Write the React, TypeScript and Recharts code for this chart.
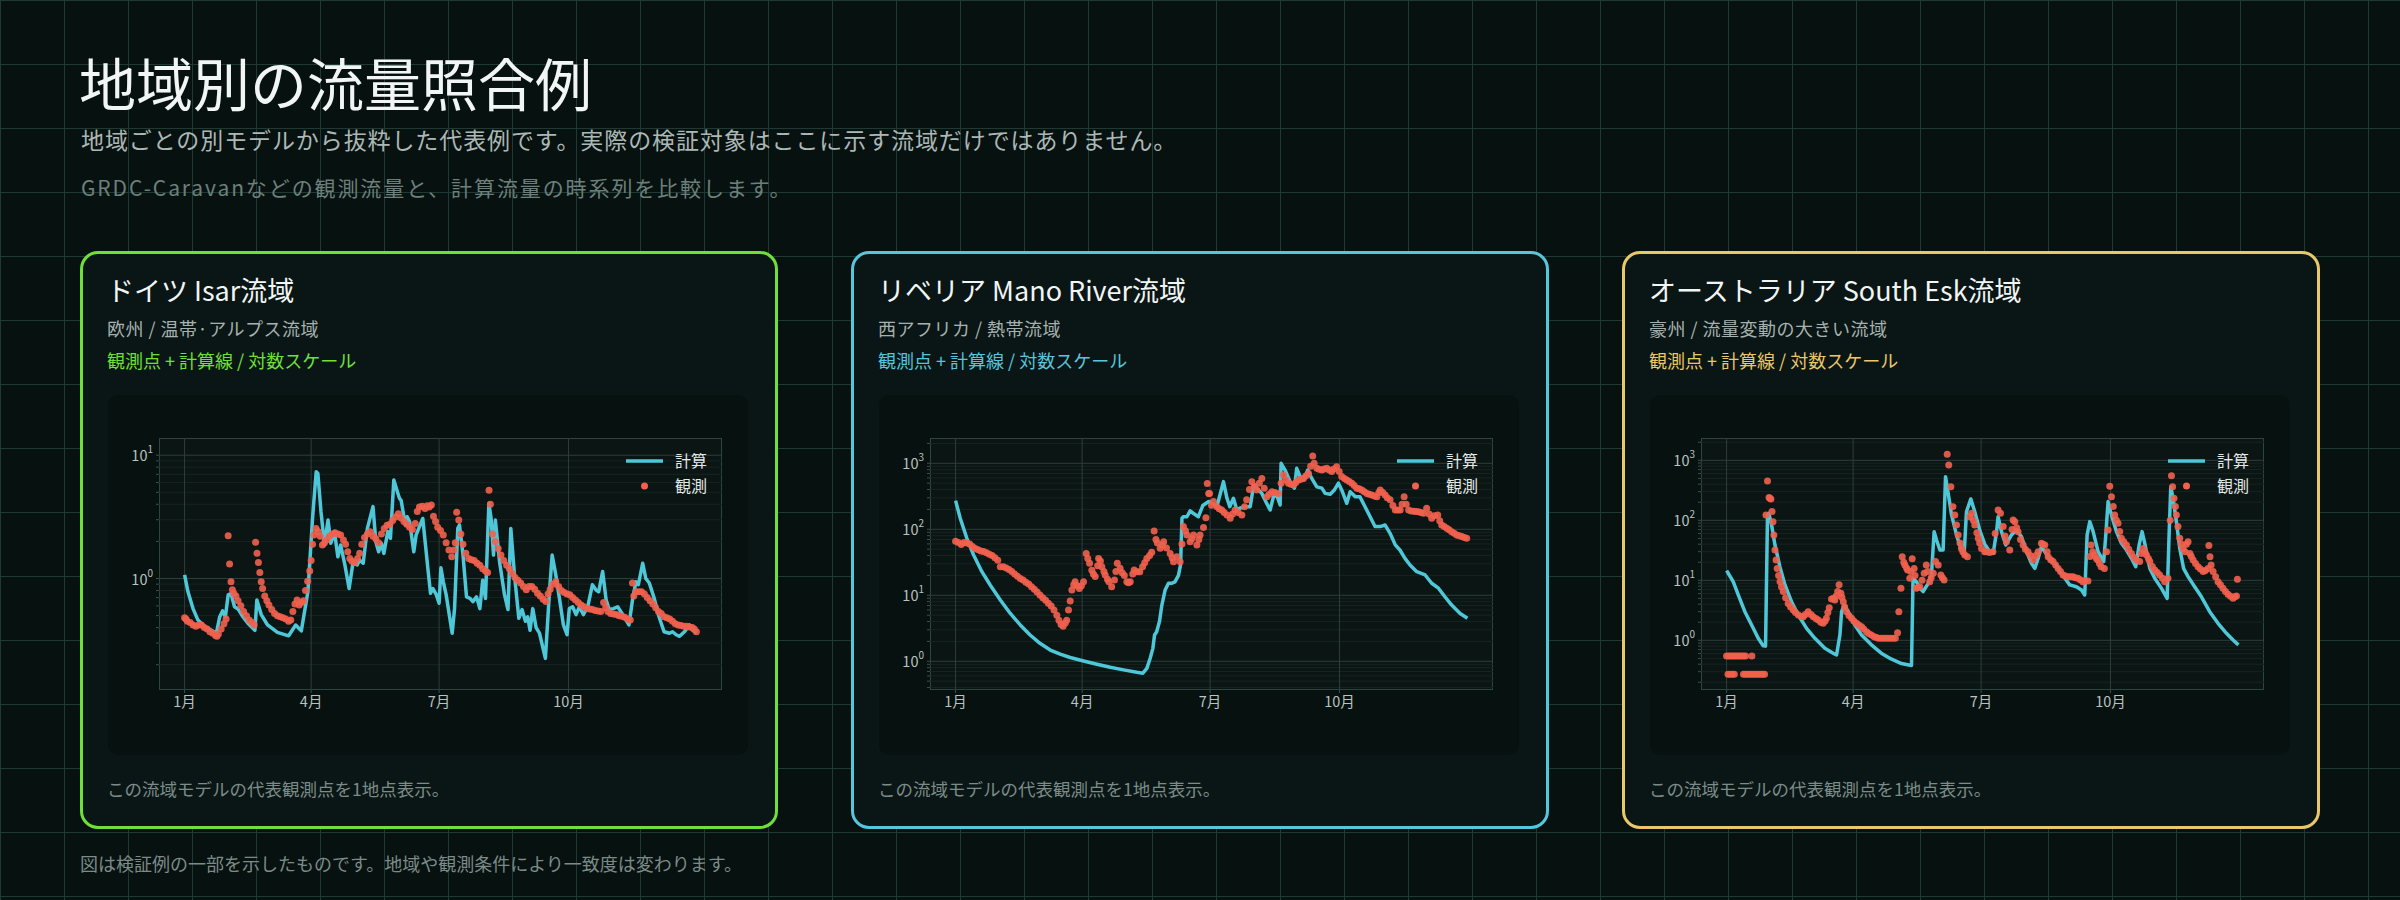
import { CartesianGrid, ComposedChart, Line, Scatter, XAxis, YAxis } from 'recharts'

const FONT = '"Noto Sans CJK JP", "Noto Sans", sans-serif'

// x軸: 1月1日を0日目とした通日
const monthTicks = [0, 90, 181, 273]
const monthLabels = ['1月', '4月', '7月', '10月']

// ドイツ Isar (通日, 流量)
const isarCalc: [number, number][] = [
  [0, 1.07], [2.4, 0.78], [6, 0.57], [9.5, 0.46], [14, 0.41], [21, 0.37], [22.7, 0.365], [25, 0.49],
  [27, 0.546], [29, 0.49], [31, 0.736], [33, 0.755], [35.5, 0.59], [38, 0.567], [41.5, 0.49], [45, 0.434],
  [50, 0.38], [51.4, 0.67], [54.5, 0.51], [59, 0.42], [66, 0.366], [74, 0.343], [79, 0.42], [83, 0.376],
  [87.7, 0.78], [91, 3.07], [93.6, 7.35], [94.8, 7.1], [97, 3.48], [99.5, 1.87], [102, 2.98], [104, 1.93],
  [106.6, 2.4], [109, 1.5], [111, 1.87], [114, 1.29], [117, 0.83], [119.7, 1.33], [122.7, 1.29], [124.4, 1.41],
  [127, 1.33], [130, 2.55], [134, 3.83], [136, 1.99], [138, 1.65], [140, 1.93], [141.7, 1.6], [144.5, 2.4],
  [146.4, 2.12], [148.8, 6.3], [151, 5.2], [152.8, 4.47], [154, 4.3], [157, 2.72], [158.3, 3.17], [160, 2.9],
  [163, 1.65], [164.7, 2.26], [167, 2.63], [169.4, 3.07], [173, 1.21], [174.9, 0.76], [176.5, 0.83], [179, 0.74],
  [181, 0.63], [182.3, 1.22], [184, 0.94], [186, 0.74], [190.3, 0.36], [192, 0.57], [194.3, 2.55], [195.5, 2.72],
  [198, 1.55], [200.5, 0.71], [203, 0.69], [205, 0.65], [207.6, 0.71], [210, 0.57], [212, 0.97], [214, 0.69],
  [216.4, 4.07], [218, 3.07], [219.7, 1.55], [221, 2.98], [224, 1.37], [227.5, 0.74], [230, 0.56], [232, 2.55],
  [234.6, 1.07], [237.7, 0.476], [240, 0.56], [242.4, 0.45], [244, 0.49], [245.7, 0.38], [247.6, 0.57], [250, 0.4],
  [252.4, 0.36], [256.6, 0.225], [259.5, 0.78], [261.4, 1.55], [264, 1.07], [266.6, 0.69], [269.4, 0.42], [272, 0.35],
  [273.6, 0.57], [276, 0.59], [278.4, 0.51], [280.8, 0.59], [283.6, 0.51], [286.7, 0.59], [290, 0.89], [292.5, 0.81],
  [294.5, 0.78], [297.3, 1.14], [299.8, 0.67], [302, 0.56], [305, 0.57], [308, 0.59], [311.6, 0.51], [316, 0.42],
  [318.7, 0.69], [321, 0.94], [322.7, 0.89], [325.8, 1.33], [328, 1.0], [330.5, 0.92], [334, 0.69], [337.4, 0.49],
  [341, 0.37], [344.8, 0.36], [347, 0.37], [349.6, 0.35], [352, 0.34], [355.5, 0.37], [359, 0.42], [361.4, 0.38],
  [364, 0.36],
]
const isarObs: [number, number][] = [
  [0, 0.48], [1, 0.47], [2, 0.45], [4, 0.44], [6, 0.42], [8, 0.41], [10, 0.42], [12, 0.42], [14, 0.4], [16, 0.39],
  [18, 0.37], [20, 0.36], [22, 0.345], [23, 0.34], [24, 0.355], [26, 0.39], [28, 0.43], [29.5, 0.47], [31, 2.22],
  [32, 1.31], [33, 0.94], [34, 0.81], [35, 0.76], [36.5, 0.72], [38, 0.66], [40, 0.6], [42, 0.54], [44, 0.5],
  [46, 0.46], [48, 0.44], [49.5, 0.42], [50.5, 1.97], [51.5, 1.6], [52.5, 1.35], [53.5, 1.12], [54.5, 0.94],
  [55.5, 0.83], [57, 0.72], [58.5, 0.66], [60, 0.61], [62, 0.56], [64, 0.52], [66, 0.5], [68, 0.49], [70, 0.48],
  [72, 0.47], [74, 0.45], [75.5, 0.46], [77, 0.54], [78.5, 0.62], [80, 0.67], [81.5, 0.61], [83, 0.64], [84.5, 0.66],
  [86, 0.8], [87.5, 0.95], [89, 1.15], [90, 1.4], [91, 1.9], [92, 2.25], [93.5, 2.55], [95, 2.4], [96.5, 2.2],
  [98, 1.87], [99.5, 1.95], [101, 2.05], [103, 2.2], [105, 2.3], [107, 2.35], [109, 2.3], [111, 2.25], [113, 2.05],
  [114.5, 1.9], [116, 1.65], [117.5, 1.45], [119, 1.38], [121, 1.35], [123, 1.45], [124.5, 1.6], [126, 1.9],
  [128, 2.15], [130, 2.3], [132, 2.4], [134, 2.2], [136, 2.1], [138, 1.95], [140, 2.3], [142, 2.55], [144, 2.7],
  [146, 2.75], [148, 2.95], [150, 3.15], [152, 3.35], [154, 3.1], [156, 2.9], [158, 2.75], [160, 2.6], [162, 2.5],
  [164, 2.8], [165.5, 3.5], [167, 3.8], [169, 3.85], [171, 3.7], [172.5, 3.9], [174, 3.8], [175.5, 3.95], [177, 3.2],
  [178.5, 2.9], [180, 2.6], [182, 2.45], [184, 2.25], [186, 1.95], [188, 1.7], [190, 1.5], [191.5, 1.7], [192.5, 1.95],
  [193.5, 3.45], [195, 2.98], [196.5, 2.3], [198, 1.9], [200, 1.6], [202, 1.45], [204, 1.42], [206, 1.4], [208, 1.33],
  [210, 1.28], [212, 1.2], [214, 1.15], [215.5, 1.12], [216.5, 5.2], [217.5, 4.0], [219, 2.3], [221, 2.0], [223, 1.75],
  [225, 1.55], [227, 1.4], [229, 1.28], [231, 1.2], [233, 1.1], [235, 1.02], [237, 0.97], [239, 0.92], [241, 0.86],
  [243, 0.81], [245, 0.86], [247, 0.86], [249, 0.82], [251, 0.76], [253, 0.72], [255, 0.68], [257, 0.65], [258.5, 0.75],
  [260, 0.82], [262, 0.9], [264, 0.94], [266, 0.86], [268, 0.8], [270, 0.77], [272, 0.75], [274, 0.74], [276, 0.7],
  [278, 0.67], [280, 0.64], [282, 0.61], [284, 0.59], [286, 0.57], [288, 0.565], [290, 0.56], [292, 0.55], [294, 0.545],
  [296, 0.54], [298, 0.64], [299.5, 0.58], [301, 0.54], [303, 0.52], [305, 0.515], [307, 0.51], [309, 0.5], [311, 0.495],
  [313, 0.485], [315, 0.47], [317, 0.46], [318.5, 0.92], [319.5, 0.72], [321, 0.78], [323, 0.78], [325, 0.78],
  [327, 0.75], [329, 0.7], [331, 0.66], [333, 0.62], [335, 0.58], [337, 0.54], [339, 0.52], [341, 0.49], [343, 0.48],
  [345, 0.47], [347, 0.45], [349, 0.43], [351, 0.42], [353, 0.415], [355, 0.41], [357, 0.41], [359, 0.405], [361, 0.4],
  [362.5, 0.39], [364, 0.37],
]

// リベリア Mano River
const manoCalc: [number, number][] = [
  [0, 272], [3.3, 147], [8, 73], [12.8, 40.8], [18.7, 22.8], [24.6, 14.3], [31.8, 8.5], [38.9, 5.3], [46, 3.55],
  [53, 2.5], [60, 1.87], [67.3, 1.48], [74.4, 1.28], [81.5, 1.14], [91, 1.01], [100.5, 0.9], [110, 0.81], [119.4, 0.74],
  [128.9, 0.68], [133.2, 0.66], [136, 0.78], [138.4, 1.11], [140.3, 1.57], [141.5, 2.5], [143, 2.8], [145, 4.0],
  [146.7, 7.1], [149, 12], [151.4, 15.2], [153.8, 15.2], [156, 16], [158.5, 20], [160, 29], [161, 147], [162, 155],
  [164.5, 155], [166.8, 190], [169, 175], [172.7, 155], [175.8, 229], [180, 263], [183.4, 240], [185.8, 220], [188, 330],
  [190.5, 527], [193, 295], [195, 220], [197.6, 295], [200, 196], [202, 208], [206, 220], [209.5, 220], [212, 470],
  [215.4, 395], [217.8, 350], [220.6, 263], [223.7, 196], [226, 310], [228.4, 330], [230.8, 233], [231.5, 1000],
  [234.3, 790], [237.9, 527], [241, 420], [242.6, 840], [245, 630], [247.4, 560], [250.5, 790], [253.3, 590],
  [256.9, 440], [260.5, 420], [262.8, 350], [266.4, 340], [269.4, 395], [272.3, 500], [274.6, 395], [278.2, 248],
  [280.6, 370], [284.4, 310], [287.6, 310], [291.2, 220], [294.8, 155], [298.3, 110], [301.9, 110], [305.5, 116],
  [309, 87], [312.7, 58], [316, 48.5], [319.6, 36.3], [323.2, 28.8], [328, 22.8], [333.9, 20.3], [338.6, 15.2],
  [343.4, 12.8], [348, 9.5], [352.8, 7.1], [358.8, 5.3], [364, 4.48],
]
const manoObs: [number, number][] = [
  [0, 66], [2, 63], [4, 59], [6, 63], [8, 62], [10, 60], [12, 55], [14, 51], [16, 49], [18, 47], [20, 46], [22, 44],
  [24, 42], [26, 40], [28, 37], [30, 34], [31.8, 27], [34, 27], [36, 26], [38, 24.5], [40, 23], [42, 21], [44, 19.5],
  [46, 18], [48, 17], [50, 15.8], [52, 14.8], [54, 13.5], [56, 12.3], [58, 11.2], [60, 10.1], [62, 9.2], [64, 8.4],
  [66, 7.6], [68, 6.9], [70, 6.0], [72, 5], [73.5, 4.2], [75, 3.6], [76.5, 3.4], [78, 3.8], [79, 4.2], [80.3, 6.0],
  [81.5, 8.2], [82.7, 12], [84, 14.5], [85, 16], [86.5, 14], [88, 12.7], [89.5, 14], [91, 16.1], [92.9, 43], [94, 36],
  [95.3, 30.5], [96.9, 24], [98, 21], [99.3, 19.2], [101, 28], [101.7, 36], [103, 33], [104, 27], [105.5, 23],
  [106.4, 20.3], [108, 17.5], [109, 16], [111, 13.5], [113, 17], [114, 23], [115, 30.5], [117, 25.6], [118.5, 22],
  [120, 20], [121.8, 16.1], [123, 15.5], [124.2, 16.1], [126, 21], [127, 24.2], [129, 22.8], [131, 22.8], [133, 27],
  [134.5, 31], [136, 36], [138, 40], [139.5, 45], [141.2, 94.5], [142.5, 70], [143.5, 62], [145.5, 51.5], [147, 58],
  [148, 65], [150, 52], [152.6, 43], [154, 37], [155, 32.3], [157.3, 38.5], [159.7, 32.3], [161, 60], [162, 110],
  [163.5, 95], [164.5, 82], [166.8, 65], [168, 72], [169.2, 82], [171.6, 58], [173, 70], [173.9, 82], [176.3, 106],
  [178, 150], [179, 496], [180, 350], [180.6, 350], [182, 232], [183.4, 263], [185.8, 220], [187.5, 205], [189.3, 196],
  [191, 180], [193, 165], [195.3, 147], [197, 170], [198.8, 196], [201, 180], [203.6, 165], [205.5, 220], [207, 280],
  [209, 400], [210.7, 527], [212.5, 450], [214.2, 395], [216, 500], [217.8, 590], [219.5, 420], [221.4, 310], [223, 340],
  [225, 370], [227, 360], [229.6, 350], [231.5, 500], [233.2, 665], [235, 560], [236.7, 500], [238.5, 480], [240.3, 470],
  [242, 510], [243.8, 560], [245.5, 575], [247.4, 590], [249, 640], [251, 700], [252.5, 900], [254, 1290], [255, 1000],
  [256.9, 840], [258.5, 810], [260.5, 790], [262, 820], [264, 840], [265.7, 790], [267.5, 750], [269, 820], [271, 890],
  [272.8, 750], [274.6, 630], [276.5, 590], [278.2, 560], [280, 530], [281.8, 500], [283.5, 460], [285.3, 420],
  [287, 410], [288.9, 395], [290.7, 370], [292.5, 350], [294.3, 340], [296, 330], [297.8, 320], [299.6, 310], [301, 360],
  [302, 395], [303.8, 360], [305.5, 330], [307, 300], [309, 280], [311, 230], [312.7, 196], [314.5, 196], [316.2, 196],
  [317.5, 240], [319, 310], [320.5, 240], [322.2, 196], [324, 190], [326, 188], [327.5, 186], [329.3, 185], [331, 180],
  [332.7, 175], [335, 208], [336.8, 170], [338.6, 147], [340.5, 160], [342.9, 165], [344.3, 135], [345.7, 116],
  [347.5, 110], [349.3, 104], [351, 98], [352.8, 92], [354.6, 87], [356.4, 82], [358.2, 80], [360, 77.7], [361.8, 75],
  [363.5, 73],
]

// オーストラリア South Esk
const eskCalc: [number, number][] = [
  [0, 14.5], [1.2, 13.1], [4.7, 9.5], [8.3, 5.7], [13, 3.0], [17.8, 1.8], [22.5, 1.08], [26, 0.81], [27.7, 0.8],
  [29.1, 123], [30, 131], [32, 83.6], [34.4, 38.8], [37.9, 16.9], [41.5, 8.4], [46.2, 4.4], [51, 2.64], [56.9, 1.58],
  [62.8, 1.08], [69.9, 0.74], [75.8, 0.61], [78.2, 0.57], [80.6, 1.23], [81.8, 3.0], [83.6, 3.88], [86.5, 3.0],
  [91.2, 1.8], [96, 1.23], [103, 0.84], [110, 0.61], [117, 0.49], [124.4, 0.41], [131.5, 0.38], [132.6, 10.8],
  [135, 9.5], [137.4, 7.4], [139.8, 6.5], [143.4, 8.9], [145.7, 12.3], [147.6, 64.7], [149.3, 47], [151.7, 32],
  [154, 32], [155.7, 534], [157.6, 282], [160, 123], [163.5, 57], [167, 32], [168.9, 26.4], [170.6, 139], [173.7, 227],
  [176.5, 139], [180, 69], [183.6, 40], [187.2, 30], [189.6, 28.2], [192, 64.7], [193.1, 115], [195.5, 64.7],
  [198.6, 38.8], [202.6, 57], [206, 69], [209.7, 53.4], [213.3, 30], [216.8, 19.2], [219.2, 15.8], [221.6, 23.3],
  [223.9, 36.4], [226.3, 30], [229.9, 21.8], [233.4, 19.2], [237, 14], [240.6, 10.8], [244, 8.4], [248.8, 7.8],
  [252.4, 6.9], [254.7, 5.7], [256.4, 57], [258.3, 95], [260.7, 64.7], [264.2, 30], [268.2, 20.5], [269.7, 57],
  [271.3, 205], [273.7, 123], [277.3, 64.7], [280.8, 41.4], [284.4, 32], [287.9, 23.3], [291, 16.9], [293.4, 38.8],
  [295.5, 64.7], [297.4, 41.4], [301, 15.8], [304.5, 10.8], [309.2, 7.4], [313.3, 5.0], [314.7, 57], [315.9, 364],
  [317.5, 233], [319.9, 95], [322.3, 34], [325, 15.8], [328.2, 11.5], [332.9, 7.8], [337.7, 5.3], [343.6, 3.0],
  [349.5, 1.92], [355.5, 1.31], [360.2, 1.01], [364, 0.84],
]
const eskObs: [number, number][] = [
  [0, 0.548], [1.5, 0.548], [3, 0.548], [4.5, 0.548], [6, 0.548], [7.5, 0.548], [9, 0.548], [10.5, 0.548], [12, 0.548],
  [13.5, 0.548], [18, 0.548], [1, 0.271], [2.5, 0.271], [4, 0.271], [5.5, 0.271], [12, 0.271], [13.5, 0.271],
  [15, 0.271], [16.5, 0.271], [18, 0.271], [19.5, 0.271], [21, 0.271], [22.5, 0.271], [24, 0.271], [25.5, 0.271],
  [27, 0.271], [28, 123], [29.1, 452], [30.2, 240], [30.8, 233], [31.5, 227], [32.3, 140], [33, 95], [33.6, 57],
  [34.4, 32], [35.2, 21.8], [36, 15.8], [37, 12], [38, 9.5], [39, 7.8], [40.3, 6.5], [42, 5.1], [43.8, 4.1], [45.5, 3.6],
  [47.4, 3.2], [49, 2.9], [51, 2.64], [53, 2.5], [54.5, 2.48], [56, 2.7], [58, 3.0], [60, 2.7], [61.6, 2.48], [63.5, 2.3],
  [65.2, 2.18], [67, 2.0], [68.7, 1.92], [70, 2.1], [71, 2.33], [72, 2.9], [73, 3.5], [74.6, 4.9], [76, 5.0], [77, 4.7],
  [78, 5.5], [79, 6.5], [80, 8.4], [81.3, 6.1], [82, 5.2], [83, 4.4], [84, 3.6], [85.3, 3.0], [87, 2.6], [88.9, 2.33],
  [90.5, 2.1], [92.4, 1.92], [94, 1.8], [96, 1.69], [97.5, 1.55], [99.5, 1.39], [101, 1.3], [103, 1.23], [105, 1.15],
  [106.6, 1.11], [108, 1.08], [110, 1.08], [112, 1.08], [114, 1.08], [116, 1.08], [118, 1.08], [120, 1.08],
  [121.6, 1.34], [122.5, 3.0], [124, 7.4], [124.9, 24.8], [126, 20], [126.8, 18], [128, 16], [128.7, 14.9],
  [130.3, 10.8], [131, 14], [132, 22.8], [133.4, 15.8], [134, 12], [135, 7.4], [136, 7.6], [137.4, 7.8], [139, 10],
  [140.5, 13.1], [142, 18], [143, 14], [144.5, 9.5], [145.5, 11], [147, 13.1], [148.6, 20.5], [150.5, 18],
  [152.4, 12.3], [153.5, 11], [154.7, 10.1], [156.9, 1260], [158, 836], [159.5, 364], [161, 169], [162.3, 123],
  [163.5, 83.6], [164.7, 57], [166, 42], [167, 34], [168, 30], [169.4, 26.4], [171.3, 24.8], [173, 115], [174.2, 131],
  [175.5, 100], [176.5, 83.6], [178, 62], [179, 50], [180, 42], [181.3, 34], [183.6, 30], [185, 30], [187, 29],
  [189.4, 30], [191, 60], [193.1, 149], [194.8, 131], [196.7, 78.5], [198, 55], [199, 44], [201.4, 32], [203, 70],
  [203.8, 101], [205, 95], [206.3, 75], [207.3, 64.7], [209, 48], [210.9, 38.8], [212.5, 33], [214.4, 30], [216, 26],
  [218, 21.8], [220, 26], [221.6, 30], [223.9, 41.4], [225, 40], [226.3, 38.8], [228, 30], [228.7, 24.8], [230.5, 22],
  [232.2, 20.5], [234, 18], [235.8, 15.8], [237.5, 14], [239.3, 12.3], [241, 11.8], [242.9, 11.5], [244.6, 11.5],
  [246.4, 11.5], [248, 11], [249.9, 10.8], [251.5, 10.2], [253.3, 9.5], [255, 9.8], [257, 9.7], [258.5, 25],
  [259.2, 38.8], [260.4, 30], [261.6, 26.4], [263, 23], [264, 21.8], [265.2, 19], [266.4, 16.9], [268.7, 15.8],
  [270.2, 30], [271.3, 69], [272.5, 371], [273.7, 248], [275, 170], [276, 123], [277.2, 100], [278.4, 89], [279.6, 65],
  [280.8, 50], [282.5, 44], [284.4, 38.8], [286, 33], [287.9, 28], [289.7, 24], [291.5, 21.8], [293.8, 20.5], [295, 28],
  [296.2, 34], [297.4, 30], [298.6, 26.4], [300, 23], [301, 20.5], [302.8, 17], [304.5, 14.9], [306.3, 13.5],
  [308, 12.3], [310, 10.8], [311.6, 9.5], [313.9, 10.8], [315.5, 100], [316.4, 555], [317.2, 364], [318.2, 233],
  [319.2, 170], [319.9, 123], [321, 78.5], [322.3, 50], [323.5, 40], [324.6, 34], [326, 30], [327, 40], [328.2, 44],
  [329.5, 28], [330.5, 25], [331.8, 21.8], [333.5, 19], [335.3, 16.9], [337, 15.5], [338.9, 14], [340.5, 14.5],
  [342.4, 15.8], [343, 38], [343.8, 24.8], [344.6, 18], [346, 14], [347.8, 11.5], [349.5, 9.5], [351.2, 8.4],
  [353, 7.4], [354.8, 6.5], [356.6, 5.85], [358.4, 5.4], [360.2, 5.0], [361.5, 5.3], [362.6, 5.5], [363.3, 10.4],
]

const panels = [
  { title: 'ドイツ Isar流域', region: '欧州 / 温帯·アルプス流域', accent: '#6fe03a', calc: isarCalc, obs: isarObs, yDomain: [0.1247, 13.79] },
  { title: 'リベリア Mano River流域', region: '西アフリカ / 熱帯流域', accent: '#55c7dc', calc: manoCalc, obs: manoObs, yDomain: [0.367, 2417] },
  { title: 'オーストラリア South Esk流域', region: '豪州 / 流量変動の大きい流域', accent: '#e9c86a', calc: eskCalc, obs: eskObs, yDomain: [0.1485, 2353] },
]

const CALC_COLOR = '#4ec8d9'
const OBS_COLOR = '#f2604e'

function logTicks(domain: number[]) {
  const out: number[] = []
  for (let e = Math.floor(Math.log10(domain[0])); e <= Math.ceil(Math.log10(domain[1])); e++) {
    for (let m = 1; m <= 9; m++) {
      const v = m * Math.pow(10, e)
      if (v >= domain[0] && v <= domain[1]) out.push(v)
    }
  }
  return out
}
const isDecade = (v: number) => Math.abs(Math.log10(v) - Math.round(Math.log10(v))) < 1e-6

function LogTick(props: any) {
  const { x, y, payload } = props
  if (!isDecade(payload.value)) return <g />
  const e = Math.round(Math.log10(payload.value))
  return (
    <text x={x} y={y} textAnchor="end" fill="#b7c3c0" fontSize={14.5} fontFamily={FONT}>
      <tspan dy={6}>10</tspan>
      <tspan dy={-8} fontSize={10}>{e}</tspan>
    </text>
  )
}

function FlowChart({ calc, obs, yDomain }: { calc: [number, number][]; obs: [number, number][]; yDomain: number[] }) {
  const calcData = calc.map(([day, q]) => ({ day, q }))
  const obsData = obs.map(([day, q]) => ({ day, q }))
  const ticks = logTicks(yDomain)
  return (
    <div style={{ position: 'relative', width: 640, height: 360 }}>
      <div
        style={{
          position: 'absolute', left: 51, top: 43, width: 563, height: 252, boxSizing: 'border-box',
          background: '#0b1514', border: '1px solid #2d4541',
        }}
      />
      <div style={{ position: 'absolute', left: 0, top: 0 }}>
        <ComposedChart width={640} height={360} margin={{ top: 43, right: 26, bottom: 35, left: 11 }}>
          <CartesianGrid horizontalValues={ticks.filter((t) => !isDecade(t))} vertical={false} stroke="#172422" />
          <CartesianGrid horizontalValues={ticks.filter(isDecade)} verticalValues={monthTicks} stroke="#2c3f3c" />
          <XAxis
            type="number" dataKey="day" domain={[-18.2, 382.2]} allowDataOverflow ticks={monthTicks} interval={0}
            tickFormatter={(d) => monthLabels[monthTicks.indexOf(d)]} height={30} axisLine={false}
            tickLine={{ stroke: '#3a524d' }} tickSize={3} tickMargin={4}
            tick={{ fill: '#b7c3c0', fontSize: 14.5, fontFamily: FONT }}
          />
          <YAxis
            type="number" dataKey="q" scale="log" domain={yDomain} allowDataOverflow ticks={ticks} interval={0}
            width={40} axisLine={false} tickLine={{ stroke: '#3a524d' }} tickSize={3} tickMargin={3} tick={<LogTick />}
          />
          <Scatter
            data={obsData} dataKey="q" isAnimationActive={false}
            shape={(p: any) => <circle cx={p.cx} cy={p.cy} r={3.5} fill={OBS_COLOR} fillOpacity={0.9} />}
          />
          <Line
            data={calcData} dataKey="q" type="linear" stroke={CALC_COLOR} strokeWidth={3.5} dot={false}
            strokeLinejoin="round" isAnimationActive={false}
          />
        </ComposedChart>
      </div>
      <svg style={{ position: 'absolute', left: 510, top: 50 }} width={120} height={60}>
        <line x1={8} x2={45} y1={16} y2={16} stroke={CALC_COLOR} strokeWidth={3.5} />
        <text x={57} y={21.5} fill="#e3e9e7" fontSize={16} fontFamily={FONT}>計算</text>
        <circle cx={26.5} cy={41} r={3.5} fill={OBS_COLOR} />
        <text x={57} y={46.5} fill="#e3e9e7" fontSize={16} fontFamily={FONT}>観測</text>
      </svg>
    </div>
  )
}

export default function App() {
  return (
    <div
      style={{
        position: 'absolute', left: 0, top: 0, width: 2400, height: 900, overflow: 'hidden', fontFamily: FONT,
        backgroundColor: '#071110',
        backgroundImage:
          'linear-gradient(#1e3a33 1px, transparent 1px), linear-gradient(90deg, #1e3a33 1px, transparent 1px)',
        backgroundSize: '64px 64px',
      }}
    >
      <div style={{ position: 'absolute', left: 79, top: 53, fontSize: 57, lineHeight: 1, color: '#f1f5f4' }}>
        地域別の流量照合例
      </div>
      <div style={{ position: 'absolute', left: 81, top: 128, fontSize: 23, lineHeight: 1, letterSpacing: 0.9, color: '#abb8b5', whiteSpace: 'nowrap' }}>
        地域ごとの別モデルから抜粋した代表例です。実際の検証対象はここに示す流域だけではありません。
      </div>
      <div style={{ position: 'absolute', left: 81, top: 177, fontSize: 21, lineHeight: 1, letterSpacing: 1.9, color: '#6c807b', whiteSpace: 'nowrap' }}>
        GRDC-Caravanなどの観測流量と、計算流量の時系列を比較します。
      </div>

      {panels.map((p, i) => (
        <div
          key={p.title}
          style={{
            position: 'absolute', left: 80 + i * 771, top: 251, width: 698, height: 578, boxSizing: 'border-box',
            border: `3px solid ${p.accent}`, borderRadius: 18, background: '#0a1615',
          }}
        >
          <div style={{ position: 'absolute', left: 24, top: 22, fontSize: 27, lineHeight: 1, color: '#f1f5f4', whiteSpace: 'nowrap' }}>
            {p.title}
          </div>
          <div style={{ position: 'absolute', left: 24, top: 65, fontSize: 18, lineHeight: 1, letterSpacing: 0.5, color: '#a6b2af', whiteSpace: 'nowrap' }}>
            {p.region}
          </div>
          <div style={{ position: 'absolute', left: 24, top: 97, fontSize: 18, lineHeight: 1, color: p.accent, whiteSpace: 'nowrap' }}>
            観測点 + 計算線 / 対数スケール
          </div>
          <div
            style={{
              position: 'absolute', left: 25, top: 141, width: 640, height: 360, borderRadius: 10,
              background: '#071110', overflow: 'hidden',
            }}
          >
            <FlowChart calc={p.calc} obs={p.obs} yDomain={p.yDomain} />
          </div>
          <div style={{ position: 'absolute', left: 24, top: 526, fontSize: 17.5, lineHeight: 1, color: '#7b8c88', whiteSpace: 'nowrap' }}>
            この流域モデルの代表観測点を1地点表示。
          </div>
        </div>
      ))}

      <div style={{ position: 'absolute', left: 80, top: 854, fontSize: 18, lineHeight: 1, color: '#7b8c88', whiteSpace: 'nowrap' }}>
        図は検証例の一部を示したものです。地域や観測条件により一致度は変わります。
      </div>
    </div>
  )
}
